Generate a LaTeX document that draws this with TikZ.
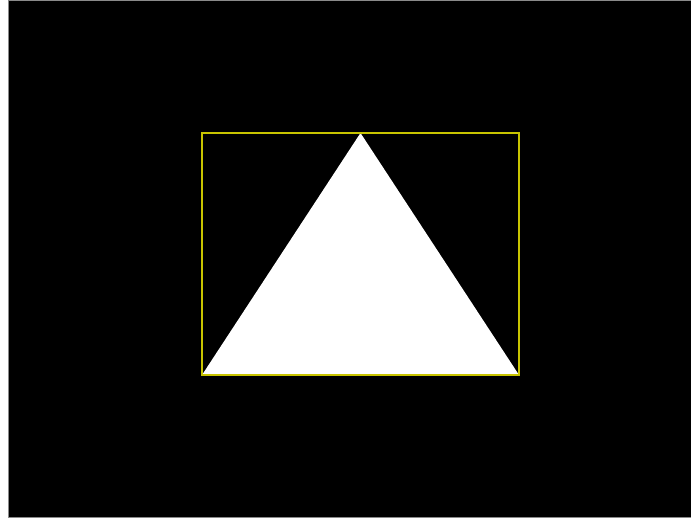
\documentclass[tikz,border=0pt]{standalone}
\usepackage{tikz}
\definecolor{FrameYellow}{HTML}{C8C400}
\definecolor{EdgeGray}{HTML}{8A8A8A}
\tikzset{
  screen/.style={fill=black, draw=EdgeGray, line width=1pt},
  boxline/.style={draw=FrameYellow, line width=1.6pt},
  trifill/.style={fill=white, draw=none},
}
\begin{document}
\begin{tikzpicture}[x=1pt,y=-1pt]
    \useasboundingbox (0,0) rectangle (691,519);
    \fill[white] (0,0) rectangle (691,519);
    % screen area
    \draw[screen] (8.5,0.5) rectangle (692,517.5);
    % triangle and its box
    \coordinate (bl) at (202,375);
    \coordinate (br) at (519,375);
    \coordinate (tl) at (202,133);
    \coordinate (apex) at (360.5,133);
    \fill[trifill] (bl) -- (apex) -- (br) -- cycle;
    \draw[boxline] (tl) rectangle (br);
\end{tikzpicture}
\end{document}
